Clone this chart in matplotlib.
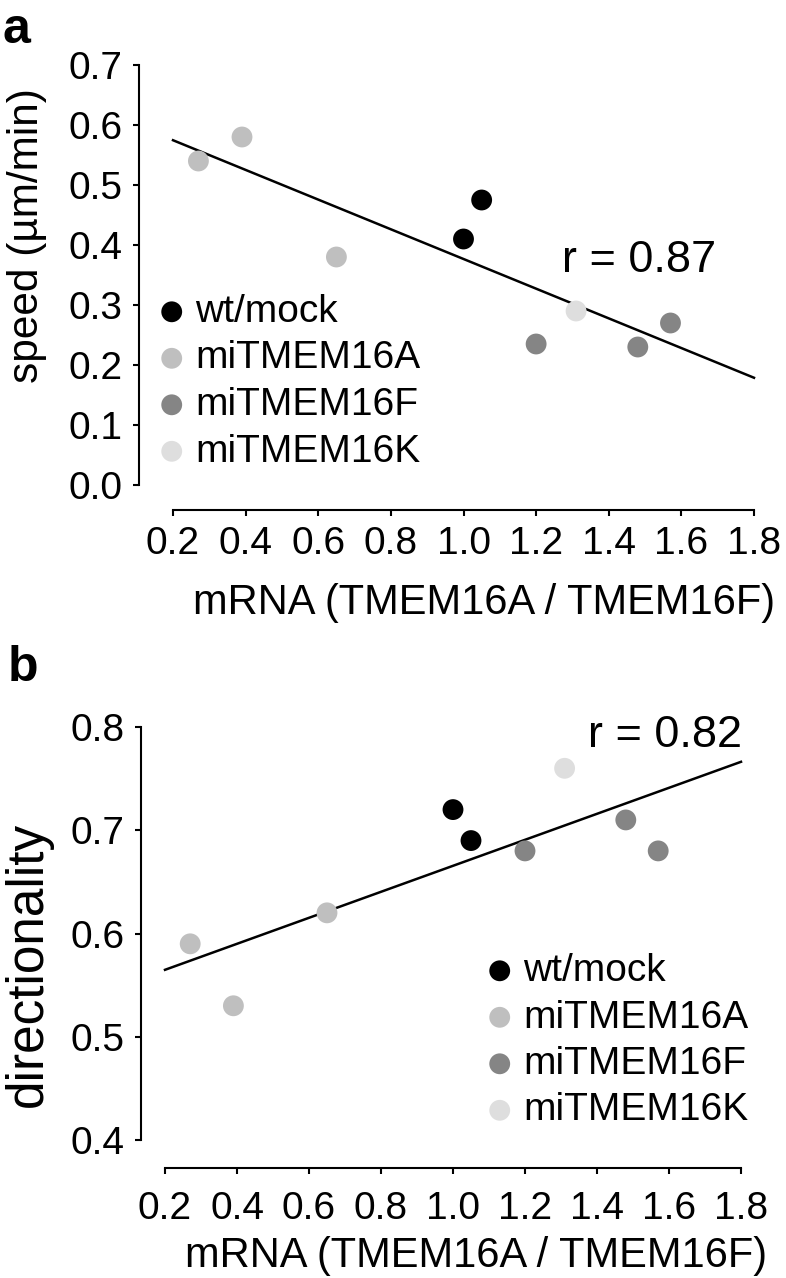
import numpy as np
import matplotlib
matplotlib.use("Agg")
import matplotlib.pyplot as plt

plt.rcParams['font.family'] = ['Liberation Sans', 'DejaVu Sans']

# data
groups = ['wt/mock', 'miTMEM16A', 'miTMEM16F', 'miTMEM16K']
colors = ['#000000', '#bfbfbf', '#858585', '#dedede']

x_wt = [1.00, 1.05]
x_a = [0.27, 0.39, 0.65]
x_f = [1.20, 1.48, 1.57]
x_k = [1.31]

speed_wt = [0.41, 0.475]
speed_a = [0.54, 0.58, 0.38]
speed_f = [0.235, 0.23, 0.27]
speed_k = [0.29]

dir_wt = [0.72, 0.69]
dir_a = [0.59, 0.53, 0.62]
dir_f = [0.68, 0.71, 0.68]
dir_k = [0.76]

xticks = [0.2, 0.4, 0.6, 0.8, 1.0, 1.2, 1.4, 1.6, 1.8]
speed_ticks = [0.0, 0.1, 0.2, 0.3, 0.4, 0.5, 0.6, 0.7]
dir_ticks = [0.4, 0.5, 0.6, 0.7, 0.8]

W, H = 786, 1278
fig = plt.figure(figsize=(W / 100, H / 100), dpi=100)


def px_axes(l, r, b, t):
    # pixel box (from top) -> figure fraction
    return fig.add_axes([l / W, 1 - b / H, (r - l) / W, (b - t) / H])


def style(ax, yt, left_out, bottom_out, xpad):
    for s in ['top', 'right']:
        ax.spines[s].set_visible(False)
    ax.spines['left'].set_position(('outward', left_out))
    ax.spines['bottom'].set_position(('outward', bottom_out))
    ax.spines['left'].set_bounds(yt[0], yt[-1])
    ax.spines['bottom'].set_bounds(xticks[0], xticks[-1])
    for s in ['left', 'bottom']:
        ax.spines[s].set_linewidth(1.5)
    ax.set_xticks(xticks)
    ax.set_xticklabels(['%.1f' % v for v in xticks])
    ax.set_yticks(yt)
    ax.set_yticklabels(['%.1f' % v for v in yt])
    ax.tick_params(length=4.5, width=1.5, labelsize=28)
    ax.tick_params(axis='y', pad=7)
    ax.tick_params(axis='x', pad=xpad)
    ax.set_xlim(xticks[0], xticks[-1])
    ax.set_ylim(yt[0], yt[-1])


def draw(ax, ys):
    xs = [x_wt, x_a, x_f, x_k]
    for xv, yv, c, g in zip(xs, ys, colors, groups):
        ax.scatter(xv, yv, s=225, color=c, edgecolors='none', label=g,
                   clip_on=False, zorder=3)
    allx = np.concatenate(xs)
    ally = np.concatenate(ys)
    k, b0 = np.polyfit(allx, ally, 1)
    lx = np.array([xticks[0], xticks[-1]])
    ax.plot(lx, k * lx + b0, color='black', lw=1.8, clip_on=False, zorder=2)


def legend(ax, x0, top):
    return ax.legend(loc='upper left', bbox_to_anchor=(x0 / W, 1 - top / H),
                     bbox_transform=fig.transFigure, frameon=False, fontsize=28,
                     handlelength=0.5, handletextpad=0.35, labelspacing=0.27,
                     borderpad=0, borderaxespad=0, scatterpoints=1)


# panel a
ax1 = px_axes(173, 754, 485, 65)
style(ax1, speed_ticks, 24.5, 18, 7)
draw(ax1, [speed_wt, speed_a, speed_f, speed_k])
ax1.text(1.272, 0.355, 'r = 0.87', fontsize=32.5, ha='left', va='baseline')
legend(ax1, 162, 294)
fig.text(27 / W, 1 - 236 / H, 'speed (\u00b5m/min)', rotation=90, fontsize=30.5,
         ha='center', va='center')
fig.text(775 / W, 1 - 614 / H, 'mRNA (TMEM16A / TMEM16F)', fontsize=30,
         ha='right', va='baseline')
fig.text(2 / W, 1 - 43 / H, 'a', fontsize=36, fontweight='bold',
         ha='left', va='baseline')

# panel b
ax2 = px_axes(165, 741, 1140, 727)
style(ax2, dir_ticks, 17.3, 20, 12)
draw(ax2, [dir_wt, dir_a, dir_f, dir_k])
ax2.text(1.375, 0.781, 'r = 0.82', fontsize=32.5, ha='left', va='baseline')
legend(ax2, 490, 953)
fig.text(28 / W, 1 - 964 / H, 'directionality', rotation=90, fontsize=37,
         ha='center', va='center')
fig.text(767 / W, 1 - 1267 / H, 'mRNA (TMEM16A / TMEM16F)', fontsize=30,
         ha='right', va='baseline')
fig.text(8 / W, 1 - 681 / H, 'b', fontsize=36, fontweight='bold',
         ha='left', va='baseline')

fig.savefig('out.png', dpi=100)
